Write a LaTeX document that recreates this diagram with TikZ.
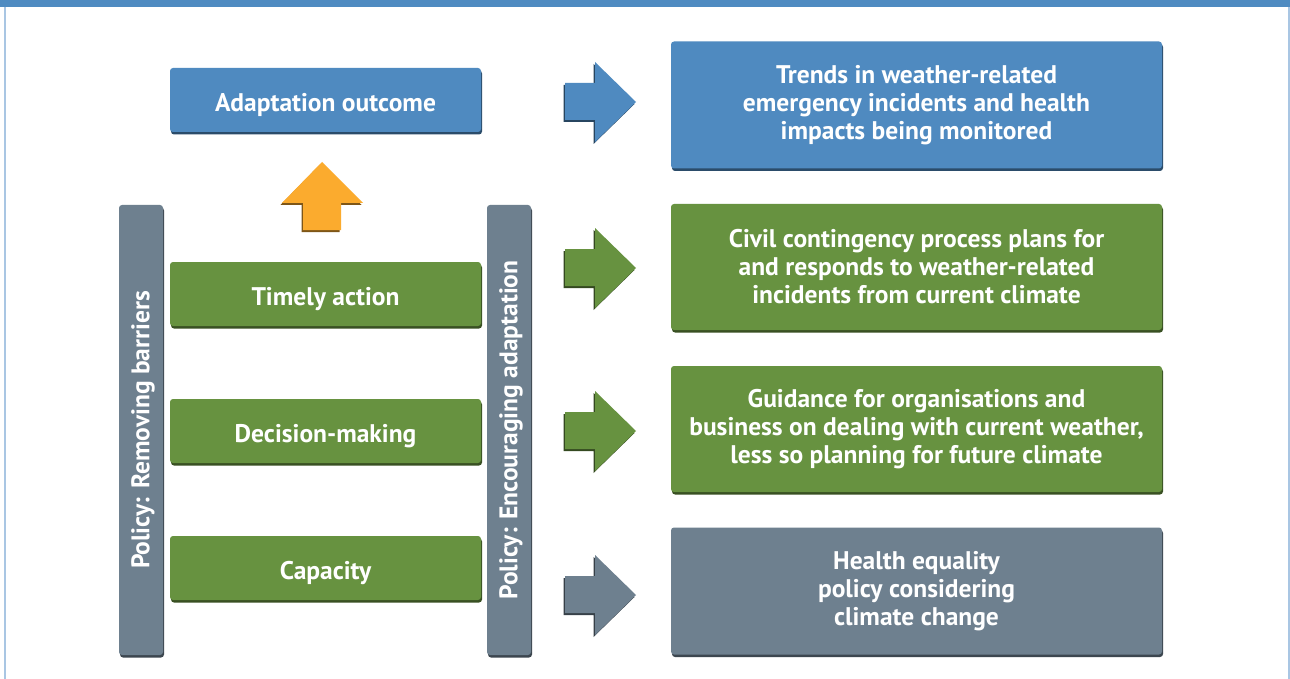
\documentclass[tikz,border=0pt]{standalone}
\usepackage{fontspec}
\setmainfont{PT Sans}
\definecolor{cblue}{RGB}{79,138,192}
\definecolor{cgreen}{RGB}{103,146,64}
\definecolor{cgray}{RGB}{110,128,143}
\definecolor{corange}{RGB}{251,171,46}
\definecolor{ctop}{RGB}{79,139,193}
\definecolor{cframe}{RGB}{169,198,227}
\tikzset{
  bev/.style={rounded corners=3pt, fill=#1,
    preaction={fill=#1!55!black, rounded corners=3pt, transform canvas={xshift=1pt,yshift=-2.5pt}}},
  box/.style={bev=#1, text=white, align=center, inner sep=0pt,
    font=\bfseries\fontsize{25.5}{28}\selectfont},
  onebox/.style={box=#1, text height=23pt, text depth=0pt, minimum width=311pt, minimum height=64pt},
  barlabel/.style={text=white, font=\bfseries\fontsize{25.5}{28}\selectfont, rotate=90, inner sep=0pt},
  blockarrow/.style={fill=#1, preaction={fill=#1!50!black, transform canvas={xshift=-1.5pt,yshift=-2pt}}}
}
\begin{document}
\begin{tikzpicture}[x=1pt,y=-1pt]
\useasboundingbox (0,0) rectangle (1290,679);
\fill[white] (0,0) rectangle (1290,679);
\fill[ctop] (0,0) rectangle (1290,7);
\draw[cframe, line width=1.5pt] (5,7) -- (5,679);
\draw[cframe, line width=1.5pt] (1289,7) -- (1289,679);

% left column
\node[onebox=cblue] (adapt) at (325.5,100) {Adaptation outcome};
\node[onebox=cgreen] (timely) at (325.5,294) {Timely action};
\node[onebox=cgreen] (decision) at (325.5,431) {Decision-making};
\node[onebox=cgreen] (capacity) at (325.5,568) {Capacity};

% bars
\node[bev=cgray, minimum width=44pt, minimum height=450pt, inner sep=0pt] (barL) at (141,430) {};
\node[barlabel] (barLtext) at ([xshift=2pt]barL.center) {Policy: Removing barriers};
\node[bev=cgray, minimum width=44pt, minimum height=450pt, inner sep=0pt] (barR) at (509,430) {};
\node[barlabel] (barRtext) at ([xshift=2pt]barR.center) {Policy: Encouraging adaptation};

% up arrow
\fill[blockarrow=corange] (322,162) -- (363,203) -- (341,203) -- (341,230) -- (303,230) -- (303,203) -- (282,203) -- cycle;

% right column
\node[box=cblue, minimum width=491pt, minimum height=127pt] (trends) at (916.5,105) {Trends in weather-related\\emergency incidents and health\\impacts being monitored};
\node[box=cgreen, minimum width=491pt, minimum height=126pt] (civil) at (916.5,267) {Civil contingency process plans for\\and responds to weather-related\\incidents from current climate};
\node[box=cgreen, minimum width=491pt, minimum height=126pt] (guidance) at (916.5,429) {Guidance for organisations and\\business on dealing with current weather,\\less so planning for future climate};
\node[box=cgray, minimum width=491pt, minimum height=127pt] (health) at (916.5,591) {Health equality\\policy considering\\climate change};

% side arrows
\foreach \dy/\c in {0/cblue,166/cgreen,329/cgreen,493/cgray}{
  \fill[blockarrow=\c, yshift=-\dy pt] (565,83) -- (595,83) -- (595,62) -- (636,102) -- (595,142) -- (595,120) -- (565,120) -- cycle;
}
\end{tikzpicture}
\end{document}
